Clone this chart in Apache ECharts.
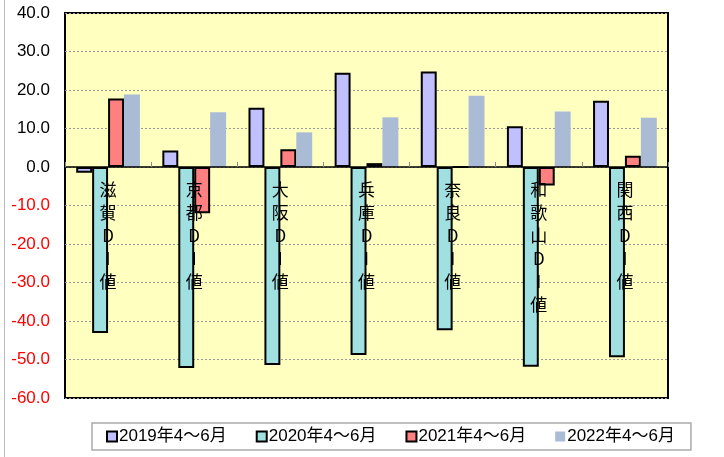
<!DOCTYPE html>
<html><head><meta charset="utf-8">
<script src="https://cdn.jsdelivr.net/npm/echarts@6/dist/echarts.min.js"></script>
<style>html,body{margin:0;padding:0;background:#fff}#c{width:724px;height:457px}</style>
</head><body><div id="c"></div>
<script>
const categories = ['滋賀DI値','京都DI値','大阪DI値','兵庫DI値','奈良DI値','和歌山DI値','関西DI値'];
const seriesNames = ['2019年4～6月','2020年4～6月','2021年4～6月','2022年4～6月'];
const v2019 = [-1.5, 4.3, 15.4, 24.5, 24.8, 10.6, 17.2];
const v2020 = [-43.1, -52.2, -51.4, -48.8, -42.4, -51.9, -49.4];
const v2021 = [17.8, -12.0, 4.6, 1.0, 0.0, -4.8, 2.9];
const v2022 = [18.8, 14.2, 9.0, 12.9, 18.5, 14.4, 12.8];
const yMin = -60, yMax = 40, yStep = 10;

const colors = ['#C0C0FF', '#A0E0E0', '#FF8080', '#AABBD6'];
const values = [v2019, v2020, v2021, v2022];
const fontLat = '"Liberation Sans", Arial, "Noto Sans CJK JP", sans-serif';
const fontJp = '"Noto Sans CJK JP", sans-serif';

const chart = echarts.init(document.getElementById('c'), null, {renderer: 'canvas'});
chart.setOption({
  animation: false,
  backgroundColor: '#fff',
  graphic: [{type: 'line', shape: {x1: 4.5, y1: 0, x2: 4.5, y2: 457}, style: {stroke: '#bbb', lineWidth: 1}}],
  grid: {left: 65, right: 56, top: 13, bottom: 59, containLabel: false, outerBoundsMode: 'none',
         show: true, backgroundColor: '#FFFFC0', borderColor: '#000', borderWidth: 2},
  legend: {
    left: 92, top: 423, padding: [5, 16, 5, 14],
    borderColor: '#aaa', borderWidth: 1.5, borderRadius: 0,
    itemWidth: 10, itemHeight: 10, itemGap: 29, icon: 'rect',
    textStyle: {fontSize: 17, color: '#000', fontFamily: fontLat, padding: [0, 0, 0, -3]},
    data: seriesNames
  },
  xAxis: [{
    type: 'category', data: categories, z: 10,
    axisLine: {onZero: true, lineStyle: {color: '#000', width: 1.5}},
    axisTick: {show: true, inside: true, length: 5, lineStyle: {color: '#888'}},
    axisLabel: {show: false},
    splitLine: {show: false}
  }, {
    type: 'category', data: categories, position: 'top', z: 10,
    axisLine: {show: false}, axisTick: {show: false},
    axisLabel: {
      inside: true, margin: 165, fontSize: 17, lineHeight: 23, color: '#000', fontFamily: fontJp,
      verticalAlign: 'top',
      formatter: v => v.split('').join('\n')
    },
    splitLine: {show: false}
  }],
  yAxis: {
    type: 'value', min: yMin, max: yMax, interval: yStep,
    axisLine: {show: false}, axisTick: {show: false},
    axisLabel: {
      margin: 15, fontSize: 17, fontFamily: fontLat,
      formatter: v => v.toFixed(1),
      color: v => (Number(v) < 0 ? '#FF0000' : '#000')
    },
    splitLine: {lineStyle: {color: '#999', type: [2, 2], width: 1}}
  },
  series: seriesNames.map((n, i) => ({
    name: n, type: 'bar', data: values[i], xAxisIndex: 0,
    barGap: '0%', barCategoryGap: '26%',
    itemStyle: {color: colors[i], borderColor: i === 3 ? 'rgba(0,0,0,0)' : '#000', borderWidth: i === 3 ? 0 : 2}
  }))
});
</script></body></html>
